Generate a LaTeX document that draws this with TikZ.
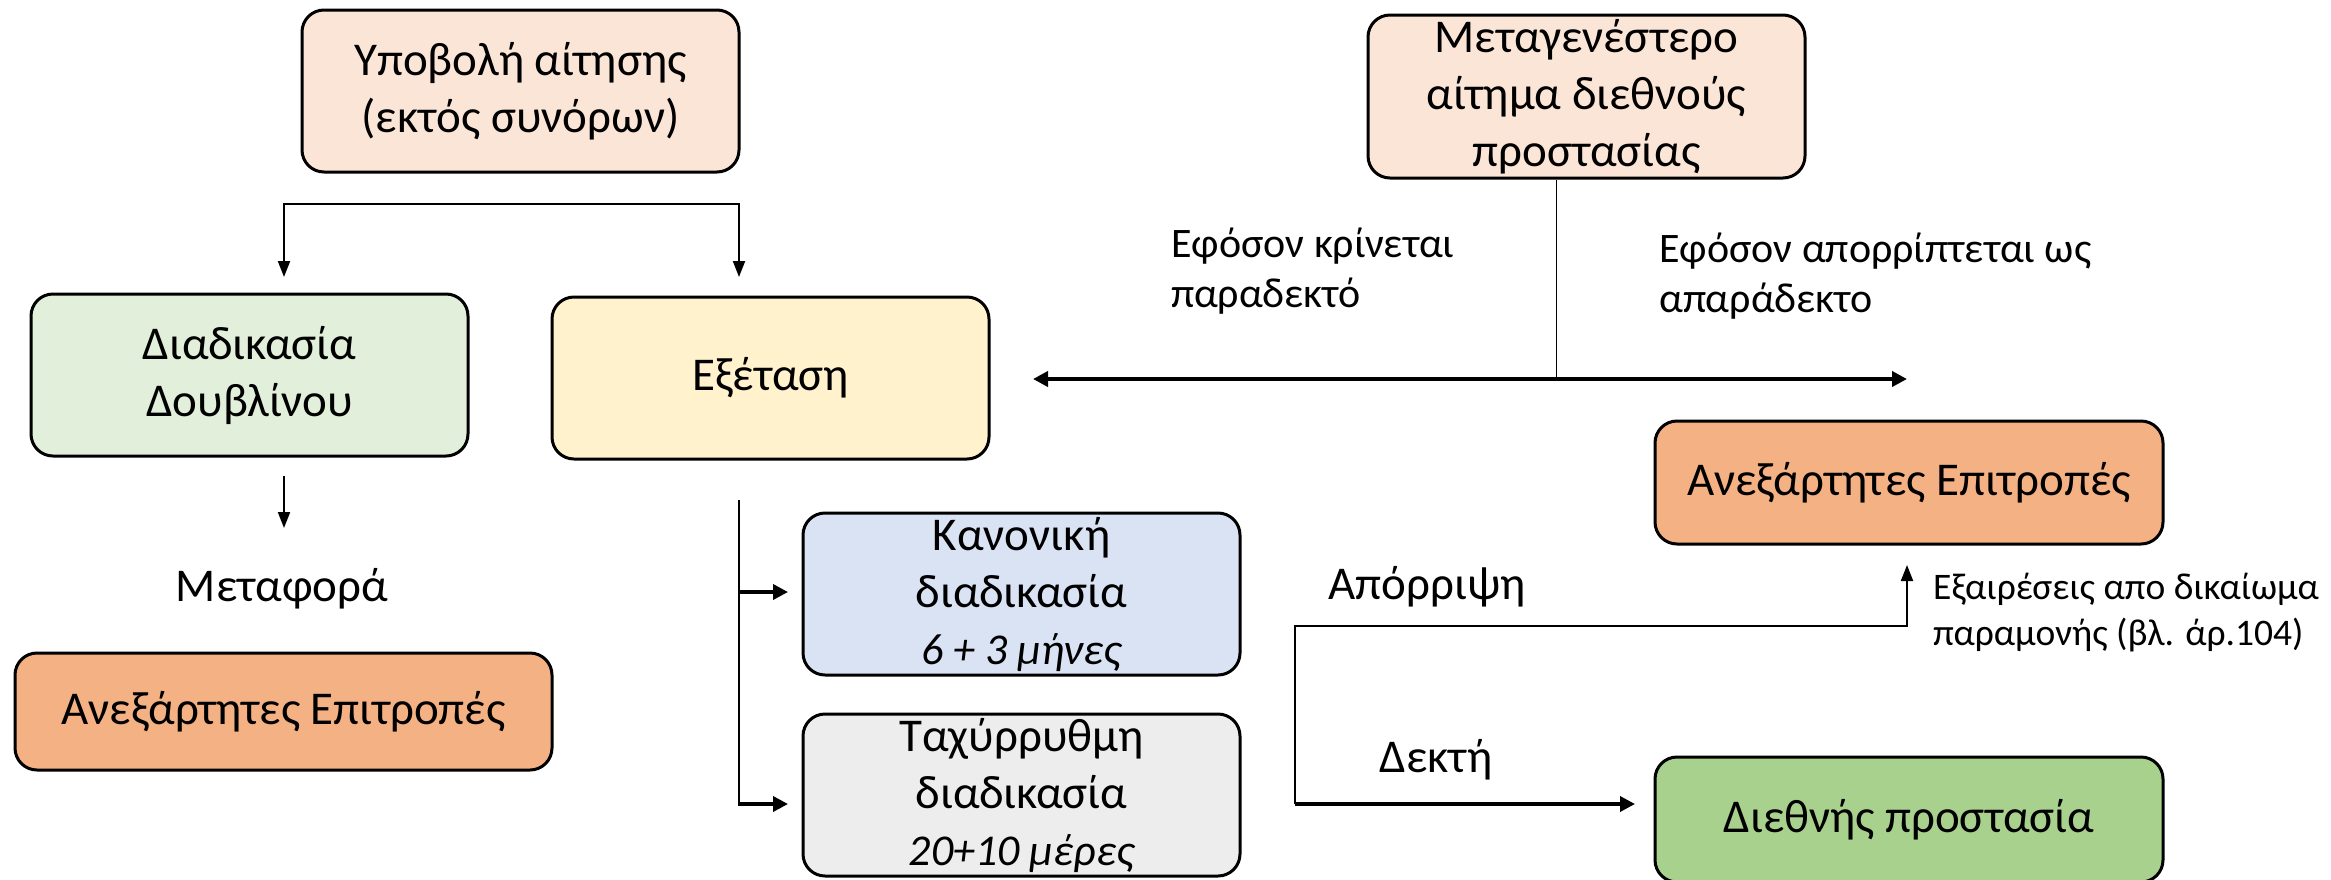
\documentclass[tikz,border=0pt]{standalone}
\usepackage{fontspec}
\setmainfont{Carlito}
\usetikzlibrary{arrows.meta}
\definecolor{peach}{HTML}{FBE5D6}
\definecolor{mint}{HTML}{E2EFDA}
\definecolor{cream}{HTML}{FFF2CC}
\definecolor{orange}{HTML}{F4B183}
\definecolor{sky}{HTML}{DAE3F3}
\definecolor{ash}{HTML}{EDEDED}
\definecolor{leaf}{HTML}{A9D18E}

\begin{document}
\begin{tikzpicture}[x=1pt,y=-1pt,
  box/.style={draw,line width=3pt,rounded corners=22pt,align=center,inner sep=0pt,
    font=\fontsize{47}{57}\selectfont},
  lbl/.style={align=left,inner sep=0pt,font=\fontsize{42}{50}\selectfont},
  tip/.style={line width=2pt,-{Triangle[length=16pt,width=12pt]}},
  bold tip/.style={line width=3.5pt,-{Triangle[length=15pt,width=15pt]}}]
  \useasboundingbox (0,0) rectangle (2331,879);

  % boxes
  \node[box,fill=peach,minimum width=437pt,minimum height=162pt] (sub) at (520.5,91)
    {Υποβολή αίτησης\\(εκτός συνόρων)};
  \node[box,fill=peach,minimum width=437pt,minimum height=163pt] (later) at (1586.5,96.5)
    {Μεταγενέστερο\\αίτημα διεθνούς\\προστασίας};
  \node[box,fill=mint,minimum width=437pt,minimum height=162pt] (dub) at (249.5,375)
    {Διαδικασία\\Δουβλίνου};
  \node[box,fill=cream,minimum width=437pt,minimum height=162pt] (exam) at (770.5,378)
    {Εξέταση};
  \node[box,fill=orange,minimum width=537pt,minimum height=117pt] (comL) at (283.5,711.5)
    {Ανεξάρτητες Επιτροπές};
  \node[box,fill=sky,minimum width=437pt,minimum height=162pt] (norm) at (1021.5,594)
    {Κανονική\\διαδικασία\\{\fontsize{44}{57}\selectfont\itshape 6 + 3 μήνες}};
  \node[box,fill=ash,minimum width=437pt,minimum height=162pt] (fast) at (1021.5,795)
    {Ταχύρρυθμη\\διαδικασία\\{\fontsize{44}{57}\selectfont\itshape 20+10 μέρες}};
  \node[box,fill=orange,minimum width=508pt,minimum height=123pt] (comR) at (1909,482.5)
    {Ανεξάρτητες Επιτροπές};
  \node[box,fill=leaf,minimum width=508pt,minimum height=125pt] (intl) at (1909,819.5)
    {Διεθνής προστασία};

  % labels
  \node[font=\fontsize{47}{57}\selectfont] (move) at (282,589) {Μεταφορά};
  \node[font=\fontsize{47}{57}\selectfont] (rej) at (1427,587) {Απόρριψη};
  \node[font=\fontsize{47}{57}\selectfont] (acc) at (1436,760) {Δεκτή};
  \node[lbl,anchor=west] (adm) at (1171,271) {Εφόσον κρίνεται\\παραδεκτό};
  \node[lbl,anchor=west] (inadm) at (1659,276) {Εφόσον απορρίπτεται ως\\απαράδεκτο};
  \node[lbl,anchor=west,font=\fontsize{37.5}{46}\selectfont] (exc) at (1933,613)
    {Εξαιρέσεις απο δικαίωμα\\παραμονής (βλ. άρ.104)};

  % connectors
  \coordinate (sl) at (284,204);
  \coordinate (sr) at (739,204);
  \draw[tip,{Triangle[length=16pt,width=12pt]}-{Triangle[length=16pt,width=12pt]}]
    (sl) ++(0,73) -- (sl) -- (sr) -- ++(0,73);
  \draw[tip] (284,476) -- ++(0,52);

  \coordinate (ex) at (739,500);
  \draw[line width=1.5pt] (ex) -- (739,804);
  \draw[bold tip] (738,592) -- ++(50,0);
  \draw[bold tip] (738,804) -- ++(50,0);

  \coordinate (mid) at (1556,379);
  \draw[line width=1pt] (later.south -| mid) -- (mid);
  \draw[line width=4pt,{Triangle[length=15pt,width=15pt]}-{Triangle[length=15pt,width=15pt]}]
    (1033,379) -- (1907,379);

  \coordinate (fork) at (1295,804);
  \draw[tip] (fork) -- (1295,626) -- (1907,626) -- ++(0,-61);
  \draw[bold tip] (fork) -- ++(340,0);
\end{tikzpicture}
\end{document}
